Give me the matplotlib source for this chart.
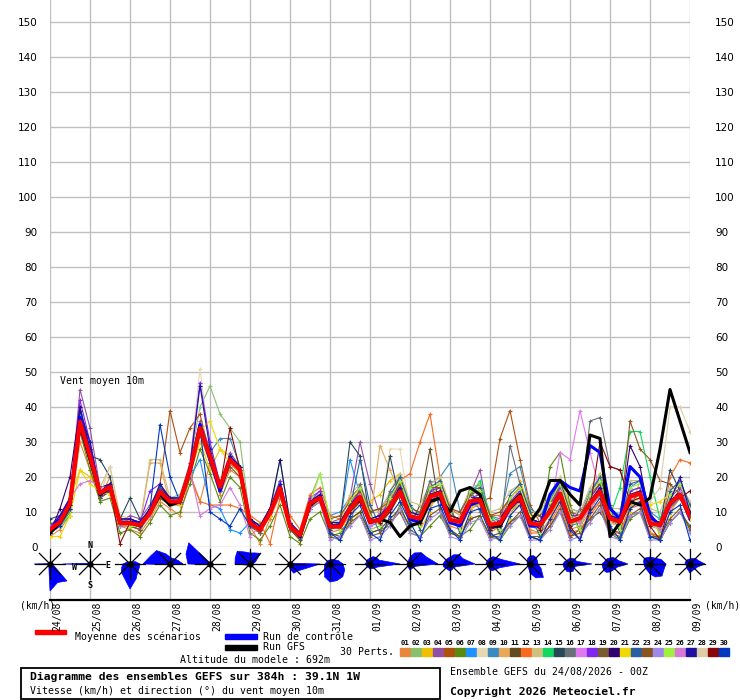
import matplotlib
matplotlib.use('Agg')
import matplotlib.pyplot as plt
import matplotlib.transforms as mtrans
from matplotlib.patches import Polygon, Rectangle
import numpy as np

# ---------------- data ----------------
hours = list(range(0, 385, 6))
dates = ['24/08', '25/08', '26/08', '27/08', '28/08', '29/08', '30/08', '31/08', '01/09',
         '02/09', '03/09', '04/09', '05/09', '06/09', '07/09', '08/09', '09/09']
yticks = list(range(0, 151, 10))

mean_speed = [5, 7.2, 12.5, 35.8, 26, 15.4, 17.2, 6.8, 6.8, 6.3,
              9.7, 15.8, 13, 13, 22, 34, 25.8, 17.2, 24.9, 22,
              6.8, 4.9, 9.7, 16.8, 5.8, 3.4, 12.5, 14, 5.8, 5.8,
              11, 14.4, 7.2, 7.7, 11.5, 15.8, 8.7, 8.2, 14.4, 15.4,
              7.7, 7.2, 13, 13.4, 6.3, 6.8, 11.5, 14.4, 6.8, 6.3,
              10.1, 15.3, 7.2, 8.2, 12.5, 15.8, 8.2, 7.2, 14.4, 15.3,
              6.8, 6.3, 12.5, 14.9, 8.7]
control = [5, 8, 13, 37, 27, 15, 17, 7, 7, 7, 10, 16, 12, 13, 22, 35, 25, 16, 25, 22,
           7, 5, 10, 17, 6, 3, 12, 14, 6, 6, 11, 14, 7, 8, 11, 16, 8, 7, 13, 14,
           7, 6, 12, 13, 6, 6, 11, 14, 6, 6, 15, 19, 17, 16, 29, 27, 11, 8, 23, 20,
           9, 6, 12, 15, 8]
gfs = [4, 7, 12, 35, 25, 15, 17, 7, 7, 6, 10, 15, 12, 13, 22, 34, 26, 17, 25, 22,
       7, 5, 10, 17, 6, 3, 12, 14, 6, 6, 11, 14, 7, 8, 7, 3, 6, 7, 13, 14,
       10, 16, 17, 15, 6, 6, 12, 15, 7, 11, 19, 19, 15, 12, 32, 31, 3, 7, 13, 12,
       14, 28, 45, 36, 27]

p01 = [3,5,9,30,22,14,20,6,5,4, 8,13,11,9,20,13,24,15,22,20, 6,1,8,15,5,2,11,13,4,5, 9,13,6,10,13,19,7,6,12,14, 6,5,11,12,4,6,10,12,5,4, 8,13,5,6,10,13,5,4,12,13, 4,3,10,14,8]
p02 = [4,6,11,38,28,16,16,8,6,7, 11,18,14,15,24,40,46,38,34,30, 8,4,11,19,7,4,14,21,7,5, 12,16,5,6,10,18,8,7,15,17, 7,6,14,14,5,7,12,15,6,5, 11,17,6,7,13,17,7,6,15,16, 6,5,13,16,8]
p03 = [6,8,14,22,20,16,15,6,8,7, 9,14,12,14,21,30,22,28,26,21, 6,5,9,16,5,3,13,14,7,7, 6,10,13,15,19,21,11,5,10,20, 12,4,9,18,10,3,8,19,11,3, 6,20,12,4,9,21,12,4,10,19, 11,3,8,18,12]
p04 = [5,7,13,45,34,17,18,7,9,8, 12,17,14,13,23,36,28,18,27,23, 8,6,11,18,7,3,13,16,7,8, 14,30,18,9,13,17,10,9,16,18, 9,8,15,22,7,8,13,16,8,7, 11,18,8,9,14,18,9,8,16,17, 8,7,14,17,10]
p05 = [4,6,11,33,25,15,18,8,7,6, 10,18,39,27,34,38,26,16,24,21, 7,5,10,16,6,3,12,13,5,6, 11,14,7,8,11,15,9,8,14,15, 8,7,12,13,14,31,39,25,12,7, 9,14,7,7,11,15,7,7,13,15, 7,6,12,15,9]
p06 = [7,6,10,33,22,13,14,4,5,3, 7,12,9,10,18,28,21,13,20,17, 4,2,6,12,3,1,8,10,3,4, 8,10,4,5,6,12,5,3,6,9, 4,3,5,9,3,2,6,9,3,2, 23,27,12,4,7,11,4,2,8,10, 4,2,7,10,5]
p07 = [4,6,12,38,30,14,16,7,7,6, 10,15,12,12,20,25,12,11,5,4, 7,5,10,17,6,3,12,14,6,7, 25,15,6,7,11,16,8,7,13,15, 7,6,12,13,5,6,11,14,6,5, 10,15,6,7,11,16,7,6,14,15, 6,6,12,15,8]
p08 = [5,7,13,37,27,16,18,8,8,7, 11,17,14,14,24,51,28,18,26,23, 8,5,11,18,6,4,13,15,7,6, 11,15,8,9,28,28,10,9,15,16, 9,8,14,14,7,8,12,15,7,7, 11,16,8,8,13,17,8,8,15,16, 7,6,13,16,10]
p09 = [6,8,13,37,28,15,17,8,8,7, 10,16,14,14,23,34,27,31,31,23, 8,6,10,16,6,4,12,14,9,10, 14,17,10,11,15,19,12,9,18,20, 24,10,16,18,9,8,21,23,11,9, 14,19,11,10,16,20,11,9,17,19, 10,8,15,18,12]
p10 = [4,6,11,34,24,14,16,7,6,6, 24,24,12,12,21,33,25,16,24,21, 7,5,9,16,5,3,12,13,6,6, 10,14,7,29,22,15,8,7,13,15, 7,6,12,12,6,6,10,13,6,6, 9,14,7,7,11,15,7,6,13,14, 6,6,11,14,8]
p11 = [6,8,11,34,27,14,16,8,6,5, 11,16,12,14,21,35,27,18,24,21, 6,4,11,16,5,2,13,15,4,3, 8,10,4,5,8,11,6,12,28,10, 5,3,8,9,3,4,7,9,3,2, 6,10,3,5,8,10,5,4,9,10, 3,2,7,10,6]
p12 = [4,7,12,35,25,16,17,7,6,6, 10,14,12,13,21,13,12,12,12,11, 9,7,1,14,9,5,15,17,9,8, 14,17,10,11,14,19,21,30,38,20, 11,9,16,16,9,9,14,17,4,4, 7,12,4,5,9,13,4,4,11,12, 4,3,20,25,24]
p13 = [5,6,12,35,26,17,23,9,8,7, 25,25,14,13,22,35,27,18,26,22, 8,5,10,17,6,3,13,15,5,7, 15,18,11,10,16,21,13,12,18,20, 12,9,17,18,10,11,16,18,10,10, 15,20,11,10,17,21,11,11,19,19, 11,10,17,18,13]
p14 = [4,6,9,39,27,16,17,8,6,6, 11,17,13,14,23,35,27,18,25,22, 7,5,10,25,7,3,12,15,6,6, 12,13,8,7,12,15,8,9,13,14, 9,6,14,19,9,7,10,15,8,5, 11,14,8,7,13,15,9,17,33,33, 20,8,13,16,9]
p15 = [8,9,14,37,26,25,20,8,14,8, 9,15,13,14,21,33,27,16,24,21, 8,5,9,16,7,3,11,13,5,7, 30,26,8,9,26,13,10,9,13,16, 7,6,12,12,5,8,10,13,8,7, 9,14,8,7,11,15,7,8,13,16, 8,6,22,16,9]
p16 = [6,8,13,36,27,14,18,8,6,5, 11,16,12,14,23,34,25,18,24,23, 6,4,11,18,5,4,13,13,7,5, 6,18,10,4,16,20,5,10,19,11, 12,4,17,10,9,4,29,18,10,3, 14,19,5,11,36,37,23,22,13,14, 8,5,11,14,10]
p17 = [5,7,12,34,25,16,17,7,8,7, 10,16,13,12,21,33,25,16,24,21, 7,5,10,16,6,4,13,14,6,6, 10,15,6,8,12,15,10,7,13,16, 7,8,14,12,7,6,12,13,8,5, 10,27,25,39,27,16,8,6,13,16, 6,7,13,14,10]
p18 = [6,9,14,42,30,16,18,7,8,7, 16,18,13,14,24,47,30,18,26,23, 8,6,11,19,7,4,14,16,7,7, 12,16,8,9,13,18,10,9,16,17, 9,8,14,15,7,8,13,16,8,7, 11,17,9,9,14,18,9,8,16,17, 8,7,14,19,10]
p19 = [4,6,11,33,24,14,16,6,6,5, 9,14,12,12,20,32,24,16,23,20, 6,4,9,15,5,3,11,13,3,2, 7,9,3,4,7,10,4,3,9,11, 4,3,8,9,3,3,7,10,3,3, 6,11,3,4,8,12,4,3,9,11, 3,3,8,11,5]
p20 = [4,11,20,40,28,17,18,8,8,7, 11,17,14,14,23,35,27,18,26,23, 8,6,11,25,7,4,13,15,7,7, 12,15,8,9,12,17,10,9,15,16, 9,8,14,14,7,8,12,15,8,7, 11,16,8,9,13,17,9,8,29,23, 8,7,13,16,10]
p21 = [3,3,9,22,18,16,15,7,6,6, 9,15,12,12,21,33,36,28,24,21, 7,5,9,16,6,3,12,13,6,6, 10,13,7,7,10,15,8,7,13,14, 7,6,12,12,6,6,10,13,7,6, 9,14,7,7,11,15,7,6,13,14, 12,13,15,14,8]
p22 = [5,7,13,37,27,16,17,8,7,7, 11,17,13,14,22,34,27,17,25,22, 7,5,10,17,6,3,12,14,6,7, 11,25,12,6,14,20,12,5,17,19, 11,4,16,17,9,4,15,18,10,3, 13,19,10,5,15,20,11,4,18,19, 10,4,16,19,12]
p23 = [5,7,12,35,26,15,17,7,7,6, 10,15,13,13,22,34,26,17,25,22, 7,5,10,17,6,3,12,14,8,9, 13,16,10,11,13,18,11,10,17,17, 11,10,15,16,9,10,14,17,9,9, 12,18,10,9,15,18,12,7,36,28, 25,19,18,15,9]
p24 = [6,7,11,35,25,16,16,6,7,6, 9,15,13,14,21,33,25,16,24,22, 6,5,11,16,7,4,11,13,2,3, 6,9,2,3,6,11,4,3,8,10, 3,2,7,8,2,3,6,9,2,2, 5,10,2,3,7,11,3,2,9,10, 2,2,7,10,4]
p25 = [4,6,12,36,26,15,17,7,6,6, 10,16,13,13,22,34,26,17,25,22, 7,5,10,17,6,3,12,21,8,5, 13,17,9,6,14,19,11,6,17,18, 10,5,16,16,8,5,14,17,9,4, 13,18,9,5,15,19,10,5,17,18, 9,4,15,18,11]
p26 = [5,7,14,18,19,17,16,8,7,6, 10,16,13,13,22,9,11,12,17,12, 3,6,10,17,6,3,12,14,6,6, 11,13,6,9,12,15,8,9,13,14, 7,8,12,14,7,6,12,13,8,5, 11,14,8,7,11,15,7,8,15,16, 8,5,11,16,10]
p27 = [5,9,14,39,30,16,18,8,8,7, 11,18,14,14,23,46,28,18,26,23, 8,6,11,18,7,4,13,15,7,7, 12,15,8,9,12,17,10,9,15,16, 9,8,14,14,7,8,12,15,8,7, 11,16,8,9,13,17,9,8,15,16, 8,7,13,20,10]
p28 = [4,6,12,35,25,15,23,7,7,6, 10,16,13,13,22,34,26,17,25,22, 7,5,10,17,6,3,12,14,6,6, 10,15,8,7,12,15,8,9,13,14, 9,6,14,12,7,8,10,15,6,7, 9,16,8,9,13,15,7,8,14,13, 13,17,40,40,33]
p29 = [4,7,12,35,26,15,17,1,7,6, 10,16,13,13,22,34,26,17,34,22, 7,5,10,17,6,3,12,14,6,6, 10,13,8,7,10,15,8,7,15,14, 9,8,12,14,5,6,12,13,8,5, 11,14,6,2,11,30,23,22,13,14, 6,2,13,14,16]
p30 = [4,6,11,36,27,15,16,7,7,6, 11,35,20,13,22,34,10,8,6,11, 6,5,10,17,6,3,12,14,4,2, 9,12,4,2,9,13,7,2,11,12, 5,2,10,11,4,2,9,12,3,2, 8,13,5,2,10,14,6,2,11,13, 3,2,10,12,2]

pert_colors = ['#E8873A', '#88C070', '#F0C000', '#9050A8', '#B05010', '#5A8A10',
               '#1E90FF', '#E8D8B0', '#3A8CC0', '#E8A858', '#604C20', '#F86A20',
               '#D0C080', '#10D860', '#284858', '#687078', '#E078F0', '#8028F0',
               '#7A5A30', '#300070', '#F0D800', '#2860A0', '#8A5420', '#A088E8',
               '#A0F040', '#D878D8', '#2010A0', '#E0CCA8', '#880808', '#0038C0']
pert_labels = ['%02d' % (k + 1) for k in range(30)]

# wind-direction roses: 16 sector radii (px), N, NNE, NE, ... NNW
rose_radii = [
    [1,1,1,1,2,4,24,20,27,3,1,1,16,1,1,1],
    [1,1,1,1,1,1,1,1,1,1,1,2,27,2,1,1],
    [2,2,3,6,10,10,11,16,25,15,12,9,7,4,3,2],
    [7,6,7,9,13,2,1,1,1,1,1,2,27,21,19,11],
    [1,1,1,1,1,1,1,1,1,1,1,2,22,26,30,2],
    [11,12,15,6,3,1,1,1,1,1,1,3,15,16,18,13],
    [1,1,1,2,30,14,10,10,5,2,1,1,1,1,1,1],
    [4,5,6,9,13,16,18,18,18,14,8,6,5,4,4,4],
    [6,8,9,10,30,8,6,5,5,4,4,4,5,4,5,5],
    [7,12,16,18,28,6,5,5,6,4,3,3,3,3,3,4],
    [7,10,13,14,25,7,5,6,7,6,6,7,7,6,6,6],
    [6,8,9,12,30,10,8,7,6,4,3,3,4,4,4,5],
    [8,9,9,8,8,12,19,15,9,4,3,3,3,3,4,6],
    [6,6,7,7,22,6,6,8,8,8,7,7,7,6,5,5],
    [6,7,8,9,18,8,7,7,8,9,9,8,8,6,6,6],
    [7,7,8,12,16,15,17,14,10,7,6,6,6,7,8,7],
    [5,6,8,9,15,8,7,7,9,6,5,4,5,5,5,5],
]

# ---------------- figure ----------------
W, H = 740, 700
fig = plt.figure(figsize=(W / 100, H / 100), dpi=100)
fig.patch.set_facecolor('white')
MONO = 'DejaVu Sans Mono'
GRID = '#c0c0c0'

# main plot
ax = fig.add_axes([50 / W, 1 - 547 / H, 640 / W, 547 / H])
ax.set_xlim(0, 384)
ax.set_ylim(0, 547 / 3.5)
for s in ax.spines.values():
    s.set_visible(False)
ax.set_xticks(range(0, 385, 24))
ax.set_yticks(yticks)
ax.grid(True, color=GRID, lw=1.0, zorder=0)
ax.set_axisbelow(True)
ax.tick_params(length=0, labelbottom=False, labelsize=7.5, pad=9)
ax2 = ax.twinx()
ax2.set_ylim(ax.get_ylim())
ax2.set_yticks(yticks)
for s in ax2.spines.values():
    s.set_visible(False)
ax2.tick_params(length=0, labelsize=7.5, pad=18)

perts = [p01, p02, p03, p04, p05, p06, p07, p08, p09, p10, p11, p12, p13, p14, p15,
         p16, p17, p18, p19, p20, p21, p22, p23, p24, p25, p26, p27, p28, p29, p30]
for vals, col in zip(perts, pert_colors):
    ax.plot(hours, vals, color=col, lw=0.8, marker='+', ms=3.5, mew=0.8, zorder=2)
ax.plot(hours, control, color='#0000ff', lw=2.2, zorder=3)
ax.plot(hours, gfs, color='black', lw=2.2, zorder=3)
ax.plot(hours, mean_speed, color='#ff0000', lw=3.0, zorder=4)

ax.text(10 / 640, (547 - 381) / 547, 'Vent moyen 10m', transform=ax.transAxes,
        family=MONO, fontsize=7.1, va='center', ha='left')

# wind rose strip
rax = fig.add_axes([50 / W, 1 - 600 / H, 640 / W, 53 / H])
PX = 384 / 640.0  # data units per pixel
rax.set_xlim(0, 384)
rax.set_ylim(-53 * PX, 0)
rax.set_xticks(range(0, 385, 24))
rax.set_yticks([])
rax.grid(True, axis='x', color=GRID, lw=1.0, zorder=0)
rax.set_axisbelow(True)
rax.tick_params(length=0, labelbottom=False)
for k, s in rax.spines.items():
    s.set_visible(k == 'bottom')
rax.spines['bottom'].set_linewidth(1.6)
rax.patch.set_alpha(0)

cy = -17 * PX
ang16 = np.deg2rad(np.arange(16) * 22.5)
ang8 = np.deg2rad(np.arange(8) * 45.0)
for k, radii in enumerate(rose_radii):
    cx = 24 * k
    r = np.array(radii) * PX
    pts = np.column_stack([cx + r * np.sin(ang16), cy + r * np.cos(ang16)])
    rax.add_patch(Polygon(pts, closed=True, facecolor='#0000ff', edgecolor='#0000ff',
                          lw=0.5, zorder=2, clip_on=False))
    for a in ang8:
        rax.plot([cx, cx + 15 * PX * np.sin(a)], [cy, cy + 15 * PX * np.cos(a)],
                 color='black', lw=0.9, zorder=3, clip_on=False)
    rax.plot([cx], [cy], marker='o', ms=3.5, color='black', zorder=4, clip_on=False)

for lab, dx, dy in [('N', 0, 19), ('S', 0, -21), ('W', -16, -3), ('E', 18, -1)]:
    rax.text(24 + dx * PX, cy + dy * PX, lab, family=MONO, fontsize=6, fontweight='bold',
             ha='center', va='center', zorder=5)

# overlay for text/legend in pixel coords
ov = fig.add_axes([0, 0, 1, 1])
ov.set_xlim(0, W)
ov.set_ylim(H, 0)
ov.axis('off')
ov.patch.set_alpha(0)

bt = mtrans.blended_transform_factory(ax.transData, ov.transData)
off = mtrans.ScaledTranslation(7 / 100, 0, fig.dpi_scale_trans)
for k, d in enumerate(dates):
    ov.text(24 * k, 602, d, transform=bt + off, rotation=90, ha='center', va='top',
            family=MONO, fontsize=7)

ov.text(20, 606, '(km/h)', family=MONO, fontsize=7, va='center', ha='left')
ov.text(705, 606, '(km/h)', family=MONO, fontsize=7, va='center', ha='left')

ov.add_patch(Rectangle((35, 630), 31, 4, color='#ff0000'))
ov.text(75, 637, 'Moyenne des scénarios', family=MONO, fontsize=7.1, va='center')
ov.add_patch(Rectangle((225, 634), 32, 5, color='#0000ff'))
ov.text(263, 637, 'Run de contrôle', family=MONO, fontsize=7.1, va='center')
ov.add_patch(Rectangle((225, 645), 32, 5, color='black'))
ov.text(263, 647, 'Run GFS', family=MONO, fontsize=7.1, va='center')
ov.text(340, 652, '30 Perts.', family=MONO, fontsize=7.1, va='center')
for k, (lab, col) in enumerate(zip(pert_labels, pert_colors)):
    x0 = 400 + 11 * k
    ov.text(x0 + 5, 643, lab, family=MONO, fontsize=5.2, fontweight='bold',
            ha='center', va='center')
    ov.add_patch(Rectangle((x0, 648), 10, 8, color=col))
ov.text(180, 660, 'Altitude du modele : 692m', family=MONO, fontsize=7.1, va='center')

ov.add_patch(Rectangle((20.5, 667.5), 419, 31, fill=False, edgecolor='black', lw=1.3))
ov.text(30, 677, 'Diagramme des ensembles GEFS sur 384h : 39.1N 1W', family=MONO,
        fontsize=8.2, fontweight='bold', va='center')
ov.text(30, 691, 'Vitesse (km/h) et direction (°) du vent moyen 10m', family=MONO,
        fontsize=7.1, va='center')
ov.text(450, 672, 'Ensemble GEFS du 24/08/2026 - 00Z', family=MONO, fontsize=7.1,
        va='center')
ov.text(450, 692, 'Copyright 2026 Meteociel.fr', family=MONO, fontsize=8.2,
        fontweight='bold', va='center')

fig.savefig('out.png', dpi=100, facecolor='white')
